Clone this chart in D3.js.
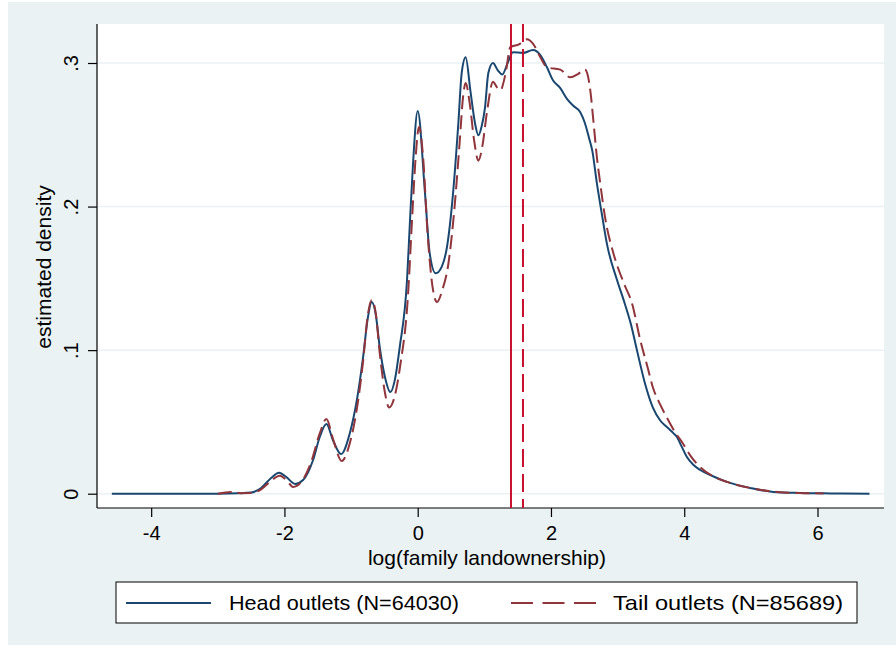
<!DOCTYPE html>
<html>
<head>
<meta charset="utf-8">
<script src="https://cdn.jsdelivr.net/npm/d3@7"></script>
<style>
  body { margin: 0; background: #fff; }
  text { font-family: "Liberation Sans", Arial, sans-serif; fill: #000; }
</style>
</head>
<body>
<svg id="chart" width="896" height="650"></svg>
<script>
// Kernel density estimates
const headX = [-4.59, -3.5, -3.0, -2.7, -2.5, -2.35, -2.2, -2.08, -1.97, -1.84, -1.72, -1.57, -1.47, -1.37, -1.27, -1.15, -1.02, -0.91, -0.82, -0.75, -0.69, -0.63, -0.57, -0.49, -0.41, -0.34, -0.27, -0.16, -0.12, -0.07, 0.0, 0.11, 0.18, 0.27, 0.36, 0.44, 0.53, 0.61, 0.66, 0.72, 0.79, 0.86, 0.91, 0.96, 1.01, 1.06, 1.13, 1.2, 1.27, 1.35, 1.43, 1.58, 1.73, 1.84, 1.94, 2.03, 2.14, 2.24, 2.34, 2.44, 2.51, 2.57, 2.62, 2.69, 2.77, 2.84, 2.99, 3.09, 3.2, 3.29, 3.41, 3.53, 3.64, 3.74, 3.84, 3.89, 3.96, 4.04, 4.14, 4.24, 4.44, 4.64, 4.99, 5.34, 5.74, 6.2, 6.78];
const headY = [0, 0, 0, 0.0003, 0.0008, 0.004, 0.011, 0.0146, 0.0115, 0.0068, 0.0095, 0.0235, 0.0395, 0.0485, 0.037, 0.0276, 0.042, 0.066, 0.095, 0.122, 0.1335, 0.125, 0.102, 0.081, 0.0708, 0.08, 0.102, 0.149, 0.186, 0.23, 0.2665, 0.209, 0.1675, 0.1535, 0.158, 0.172, 0.209, 0.258, 0.293, 0.304, 0.281, 0.258, 0.2497, 0.256, 0.269, 0.293, 0.3, 0.295, 0.292, 0.3, 0.3075, 0.307, 0.309, 0.3055, 0.297, 0.288, 0.2825, 0.275, 0.27, 0.2657, 0.258, 0.248, 0.239, 0.216, 0.193, 0.174, 0.149, 0.135, 0.118, 0.1, 0.077, 0.06, 0.051, 0.0464, 0.042, 0.0395, 0.033, 0.0255, 0.02, 0.0165, 0.012, 0.0082, 0.004, 0.0012, 0.0005, 0.0002, 0];

const tailX = [-3.0, -2.8, -2.65, -2.5, -2.35, -2.2, -2.07, -1.97, -1.87, -1.75, -1.6, -1.47, -1.37, -1.27, -1.14, -1.02, -0.91, -0.82, -0.75, -0.69, -0.63, -0.57, -0.49, -0.43, -0.35, -0.26, -0.15, -0.08, -0.03, 0.02, 0.08, 0.15, 0.22, 0.29, 0.37, 0.46, 0.55, 0.63, 0.68, 0.72, 0.78, 0.85, 0.91, 0.97, 1.04, 1.13, 1.19, 1.24, 1.32, 1.39, 1.52, 1.64, 1.73, 1.84, 1.94, 2.14, 2.29, 2.41, 2.51, 2.59, 2.64, 2.69, 2.74, 2.81, 2.94, 3.09, 3.22, 3.34, 3.45, 3.53, 3.64, 3.74, 3.86, 3.98, 4.1, 4.24, 4.44, 4.64, 4.99, 5.44, 5.8, 6.09];
const tailY = [0, 0.0012, 0.0004, 0.0005, 0.003, 0.009, 0.0125, 0.0095, 0.0047, 0.008, 0.022, 0.042, 0.052, 0.038, 0.0228, 0.035, 0.06, 0.092, 0.124, 0.135, 0.126, 0.098, 0.07, 0.06, 0.067, 0.09, 0.135, 0.195, 0.235, 0.2555, 0.235, 0.18, 0.145, 0.1335, 0.142, 0.16, 0.198, 0.245, 0.276, 0.286, 0.272, 0.245, 0.232, 0.242, 0.266, 0.287, 0.283, 0.281, 0.293, 0.311, 0.313, 0.3165, 0.3135, 0.304, 0.297, 0.2954, 0.29, 0.2925, 0.2955, 0.281, 0.258, 0.234, 0.216, 0.193, 0.167, 0.147, 0.132, 0.107, 0.088, 0.074, 0.062, 0.053, 0.043, 0.035, 0.026, 0.0185, 0.012, 0.0082, 0.004, 0.001, 0.0004, 0.0002];

const meanHead = 1.40;
const meanTail = 1.58;

const xTicks = [-4, -2, 0, 2, 4, 6];
const xTickLabels = ["-4", "-2", "0", "2", "4", "6"];
const yTicks = [0, 0.1, 0.2, 0.3];
const yTickLabels = ["0", ".1", ".2", ".3"];
const legendLabels = ["Head outlets (N=64030)", "Tail outlets (N=85689)"];

const svg = d3.select("#chart");

// Stata-style outer region
svg.append("rect")
    .attr("x", 8).attr("y", 2)
    .attr("width", 888).attr("height", 643)
    .attr("fill", "#eaf2f3");

const plot = { left: 97, right: 884, top: 24, bottom: 508 };

svg.append("rect")
    .attr("x", plot.left).attr("y", plot.top)
    .attr("width", plot.right - plot.left).attr("height", plot.bottom - plot.top)
    .attr("fill", "#fff");

// scales, fitted so that tick positions land where they are in the picture
const x = d3.scaleLinear().domain([0, 6]).range([417.7, 817.5]);
const y = d3.scaleLinear().domain([0, 0.3]).range([493.7, 63]);

// gridlines
svg.append("g")
    .selectAll("line")
    .data(yTicks)
    .enter().append("line")
    .attr("x1", plot.left).attr("x2", plot.right)
    .attr("y1", d => y(d)).attr("y2", d => y(d))
    .attr("stroke", "#eaf2f3")
    .attr("stroke-width", 1.5);

// y axis
const yAxis = svg.append("g")
    .attr("transform", `translate(${plot.left},0)`)
    .call(d3.axisLeft(y).tickValues(yTicks).tickSize(9).tickFormat((d, i) => yTickLabels[i]));
yAxis.select(".domain").attr("d", `M0,${plot.top}V${plot.bottom}`).attr("stroke", "#000").attr("stroke-width", 1.2);
yAxis.selectAll(".tick line").attr("stroke", "#000").attr("stroke-width", 1.2);
yAxis.selectAll(".tick text")
    .attr("x", null).attr("dy", null)
    .attr("transform", "translate(-19,0) rotate(-90)")
    .attr("text-anchor", "middle")
    .style("font-size", "20px")
    .style("font-family", "Liberation Sans, Arial, sans-serif");

// x axis
const xAxis = svg.append("g")
    .attr("transform", `translate(0,${plot.bottom})`)
    .call(d3.axisBottom(x).tickValues(xTicks).tickSize(9).tickFormat((d, i) => xTickLabels[i]));
xAxis.select(".domain").attr("d", `M${plot.left},0H${plot.right}`).attr("stroke", "#000").attr("stroke-width", 1.2);
xAxis.selectAll(".tick line").attr("stroke", "#000").attr("stroke-width", 1.2);
xAxis.selectAll(".tick text")
    .attr("y", 32).attr("dy", null)
    .style("font-size", "20px")
    .style("font-family", "Liberation Sans, Arial, sans-serif");

// axis titles
svg.append("text")
    .attr("x", 487).attr("y", 565)
    .attr("text-anchor", "middle")
    .style("font-size", "21px")
    .text("log(family landownership)");

svg.append("text")
    .attr("transform", "translate(51,267) rotate(-90)")
    .attr("text-anchor", "middle")
    .style("font-size", "21px")
    .text("estimated density");

// density curves
const line = d3.line()
    .x(d => x(d[0]))
    .y(d => y(d[1]))
    .curve(d3.curveMonotoneX);

const headData = headX.map((v, i) => [v, headY[i]]);
const tailData = tailX.map((v, i) => [v, tailY[i]]);

svg.append("path")
    .datum(headData)
    .attr("d", line)
    .attr("fill", "none")
    .attr("stroke", "#1a476f")
    .attr("stroke-width", 2);

svg.append("path")
    .datum(tailData)
    .attr("d", line)
    .attr("fill", "none")
    .attr("stroke", "#90353b")
    .attr("stroke-width", 2)
    .attr("stroke-dasharray", "14,6");

// mean lines
svg.append("line")
    .attr("x1", x(meanHead)).attr("x2", x(meanHead))
    .attr("y1", plot.top).attr("y2", plot.bottom)
    .attr("stroke", "#c8102e").attr("stroke-width", 2);

svg.append("line")
    .attr("x1", x(meanTail)).attr("x2", x(meanTail))
    .attr("y1", plot.top).attr("y2", plot.bottom)
    .attr("stroke", "#c8102e").attr("stroke-width", 2)
    .attr("stroke-dasharray", "18,7");

// legend
const legend = svg.append("g");
legend.append("rect")
    .attr("x", 116).attr("y", 582)
    .attr("width", 741).attr("height", 41)
    .attr("fill", "#fff")
    .attr("stroke", "#000").attr("stroke-width", 1);

const legendItems = [
    { x0: 126, x1: 211, tx: 229, color: "#1a476f", dash: null },
    { x0: 511, x1: 596, tx: 613, color: "#90353b", dash: "22,9.5" }
];

legendItems.forEach((it, i) => {
    legend.append("line")
        .attr("x1", it.x0).attr("x2", it.x1)
        .attr("y1", 603).attr("y2", 603)
        .attr("stroke", it.color).attr("stroke-width", 2)
        .attr("stroke-dasharray", it.dash);
    legend.append("text")
        .attr("x", it.tx).attr("y", 610)
        .attr("textLength", 230)
        .attr("lengthAdjust", "spacingAndGlyphs")
        .style("font-size", "21px")
        .text(legendLabels[i]);
});
</script>
</body>
</html>
